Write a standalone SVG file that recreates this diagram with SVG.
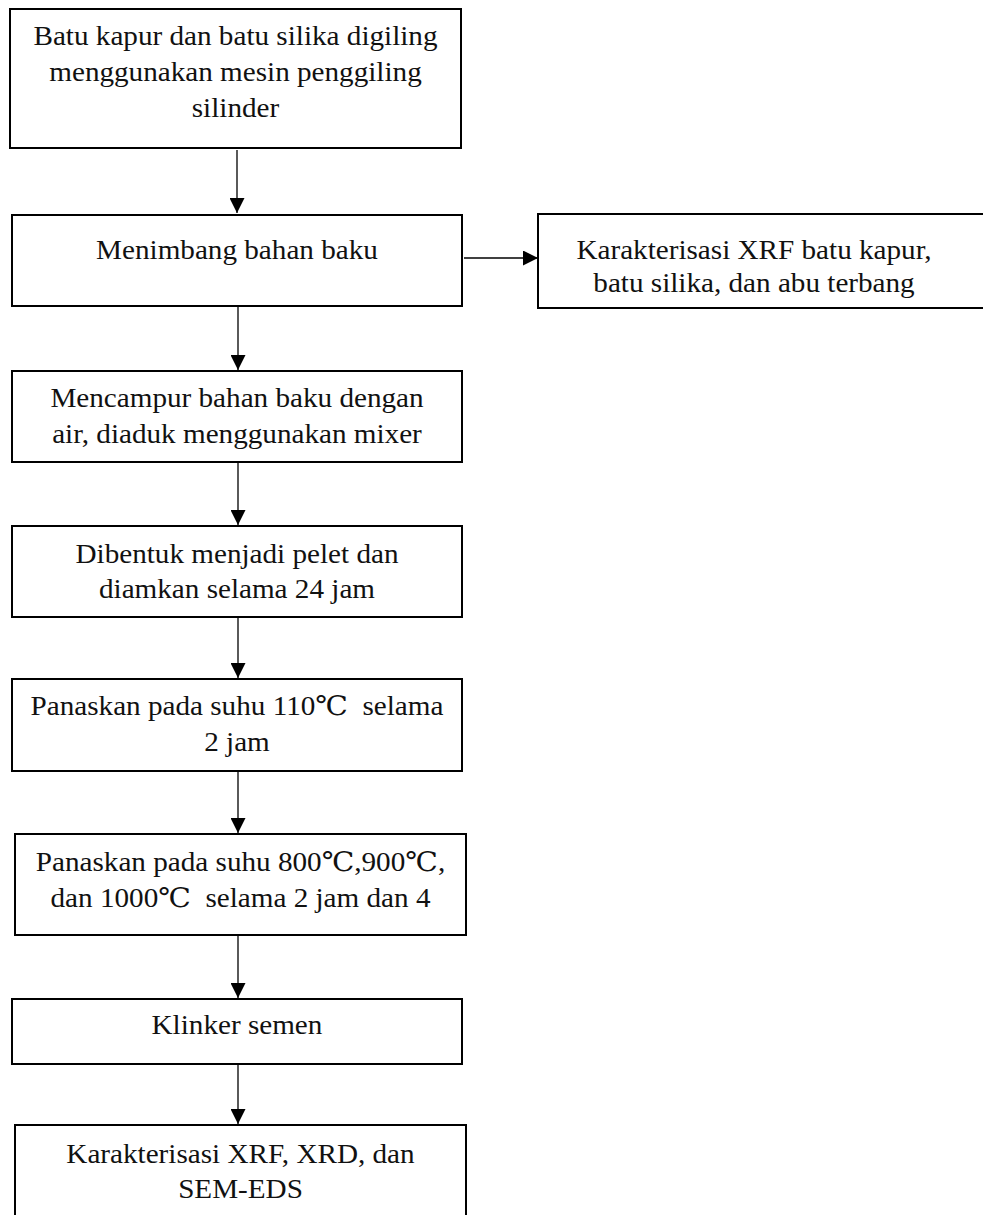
<svg xmlns="http://www.w3.org/2000/svg" width="983" height="1215" viewBox="0 0 983 1215">
<style>
.box{fill:#fff;stroke:#000;stroke-width:2}
.t{font-family:"Liberation Serif","DejaVu Serif",serif;font-size:27px;fill:#111;text-anchor:middle}
.c{stroke:#000;stroke-width:1.3;fill:none;marker-end:url(#ah)}
</style>
<defs>
<marker id="ah" markerUnits="userSpaceOnUse" markerWidth="15" markerHeight="15" viewBox="0 0 14 14" refX="14" refY="7" orient="auto">
<path d="M0,0 L14,7 L0,14 Z" fill="#000"/>
</marker>
</defs>
<rect width="983" height="1215" fill="#fff"/>
<g id="connectors">
<line class="c" x1="237" y1="150" x2="237" y2="213"/>
<line class="c" x1="238" y1="307" x2="238" y2="370"/>
<line class="c" x1="238" y1="463" x2="238" y2="525"/>
<line class="c" x1="238" y1="618" x2="238" y2="678"/>
<line class="c" x1="238" y1="772" x2="238" y2="833"/>
<line class="c" x1="238" y1="936" x2="238" y2="998"/>
<line class="c" x1="238" y1="1065" x2="238" y2="1124"/>
<line class="c" x1="464" y1="258" x2="538" y2="258"/>
</g>
<g id="n1">
<rect class="box" x="10" y="9" width="451" height="139"/>
<text class="t" transform="scale(1.08 1)"><tspan x="218.06" y="45">Batu kapur dan batu silika digiling</tspan><tspan x="218.06" y="81">menggunakan mesin penggiling</tspan><tspan x="218.06" y="117">silinder</tspan></text>
</g>
<g id="n2">
<rect class="box" x="12" y="215" width="450" height="91"/>
<text class="t" transform="scale(1.08 1)" x="219.44" y="259">Menimbang bahan baku</text>
</g>
<g id="n2b">
<rect class="box" x="538" y="214" width="460" height="94"/>
<text class="t" transform="scale(1.08 1)"><tspan x="698.15" y="259">Karakterisasi XRF batu kapur,</tspan><tspan x="698.15" y="292">batu silika, dan abu terbang</tspan></text>
</g>
<g id="n3">
<rect class="box" x="12" y="371" width="450" height="91"/>
<text class="t" transform="scale(1.08 1)"><tspan x="219.44" y="407">Mencampur bahan baku dengan</tspan><tspan x="219.44" y="443">air, diaduk menggunakan mixer</tspan></text>
</g>
<g id="n4">
<rect class="box" x="12" y="526" width="450" height="91"/>
<text class="t" transform="scale(1.08 1)"><tspan x="219.44" y="563">Dibentuk menjadi pelet dan</tspan><tspan x="219.44" y="598">diamkan selama 24 jam</tspan></text>
</g>
<g id="n5">
<rect class="box" x="12" y="679" width="450" height="92"/>
<text class="t" transform="scale(1.08 1)" xml:space="preserve"><tspan x="219.44" y="715">Panaskan pada suhu 110℃  selama</tspan><tspan x="219.44" y="751">2 jam</tspan></text>
</g>
<g id="n6">
<rect class="box" x="15" y="834" width="451" height="101"/>
<text class="t" transform="scale(1.08 1)" xml:space="preserve"><tspan x="222.69" y="871">Panaskan pada suhu 800℃,900℃,</tspan><tspan x="222.69" y="907">dan 1000℃  selama 2 jam dan 4</tspan></text>
</g>
<g id="n7">
<rect class="box" x="12" y="999" width="450" height="65"/>
<text class="t" transform="scale(1.08 1)" x="219.44" y="1034">Klinker semen</text>
</g>
<g id="n8">
<rect class="box" x="15" y="1125" width="451" height="120"/>
<text class="t" transform="scale(1.08 1)"><tspan x="222.69" y="1163">Karakterisasi XRF, XRD, dan</tspan><tspan x="222.69" y="1198">SEM-EDS</tspan></text>
</g>
</svg>
